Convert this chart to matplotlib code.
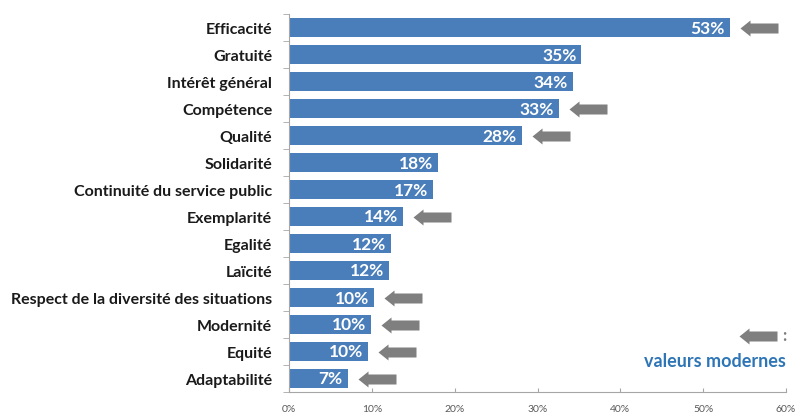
import matplotlib
matplotlib.use("Agg")
import matplotlib.pyplot as plt
import numpy as np
from matplotlib.path import Path
from matplotlib.ticker import FixedLocator, PercentFormatter

categories = ["Efficacité", "Gratuité", "Intérêt général", "Compétence", "Qualité",
              "Solidarité", "Continuité du service public", "Exemplarité", "Egalité",
              "Laïcité", "Respect de la diversité des situations", "Modernité",
              "Equité", "Adaptabilité"]
values = [53.2, 35.3, 34.3, 32.6, 28.1, 18.0, 17.4, 13.8, 12.3, 12.1, 10.3, 9.9, 9.5, 7.1]
value_labels = ["53%", "35%", "34%", "33%", "28%", "18%", "17%", "14%", "12%", "12%",
                "10%", "10%", "10%", "7%"]
modern = [True, False, False, True, True, False, False, True, False, False,
          True, True, True, True]
xticks = [0, 10, 20, 30, 40, 50, 60]

plt.rcParams['font.family'] = ['Lato', 'DejaVu Sans']

fig = plt.figure(figsize=(7.96, 4.14), dpi=100)
ax = fig.add_axes([289/796, 1-393/414, (786-289)/796, (393-15)/414])

bar_color = '#4a7ebb'
y = np.arange(len(categories))
ax.barh(y, values, height=0.68, color=bar_color, zorder=2)

for yi, v, lab in zip(y, values, value_labels):
    ax.text(v - 0.6, yi, lab, ha='right', va='center', color='white',
            fontsize=12.5, fontweight='bold', zorder=3)

# arrow marker (pixel units, tip offset to the right of the anchor)
verts = [(10, 0), (20, 8), (20, 5), (48, 5), (48, -5), (20, -5), (20, -8), (10, 0)]
codes = [Path.MOVETO] + [Path.LINETO] * 6 + [Path.CLOSEPOLY]
arrow_path = Path(verts, codes)
msize = 2 * 48 * 0.72
for yi, v, m in zip(y, values, modern):
    if m:
        ax.plot([v], [yi], marker=arrow_path, markersize=msize, color='#7f7f7f',
                markeredgewidth=0, linestyle='none', clip_on=False, zorder=3)

ax.set_xlim(0, 60)
ax.set_ylim(len(categories) - 0.5, -0.5)
ax.set_yticks(y)
ax.set_yticklabels(categories, fontsize=11.5, fontweight='bold', color='#1a1a1a')
ax.yaxis.set_minor_locator(FixedLocator(np.arange(len(categories) + 1) - 0.5))
ax.tick_params(axis='y', which='major', length=0, pad=12)
ax.tick_params(axis='y', which='minor', length=4, color='#a6a6a6', direction='out')

ax.set_xticks(xticks)
ax.xaxis.set_major_formatter(PercentFormatter(decimals=0))
ax.tick_params(axis='x', length=3, direction='in', color='#a6a6a6', labelsize=7.5,
               labelcolor='#595959', pad=9)

for s in ['top', 'right']:
    ax.spines[s].set_visible(False)
for s in ['left', 'bottom']:
    ax.spines[s].set_color('#a6a6a6')
    ax.spines[s].set_linewidth(0.8)

# legend
fig.add_artist(plt.Line2D([729/796], [1-337/414], marker=arrow_path, markersize=msize,
                          color='#7f7f7f', markeredgewidth=0, linestyle='none',
                          transform=fig.transFigure))
fig.text(784/796, 1-336/414, ":", ha='center', va='center', fontsize=12,
         fontweight='bold', color='#7f7f7f')
fig.text(786/796, 1-362/414, "valeurs modernes", ha='right', va='center', fontsize=13,
         fontweight='bold', color='#2e75b6')

fig.savefig("out.png", dpi=100)
